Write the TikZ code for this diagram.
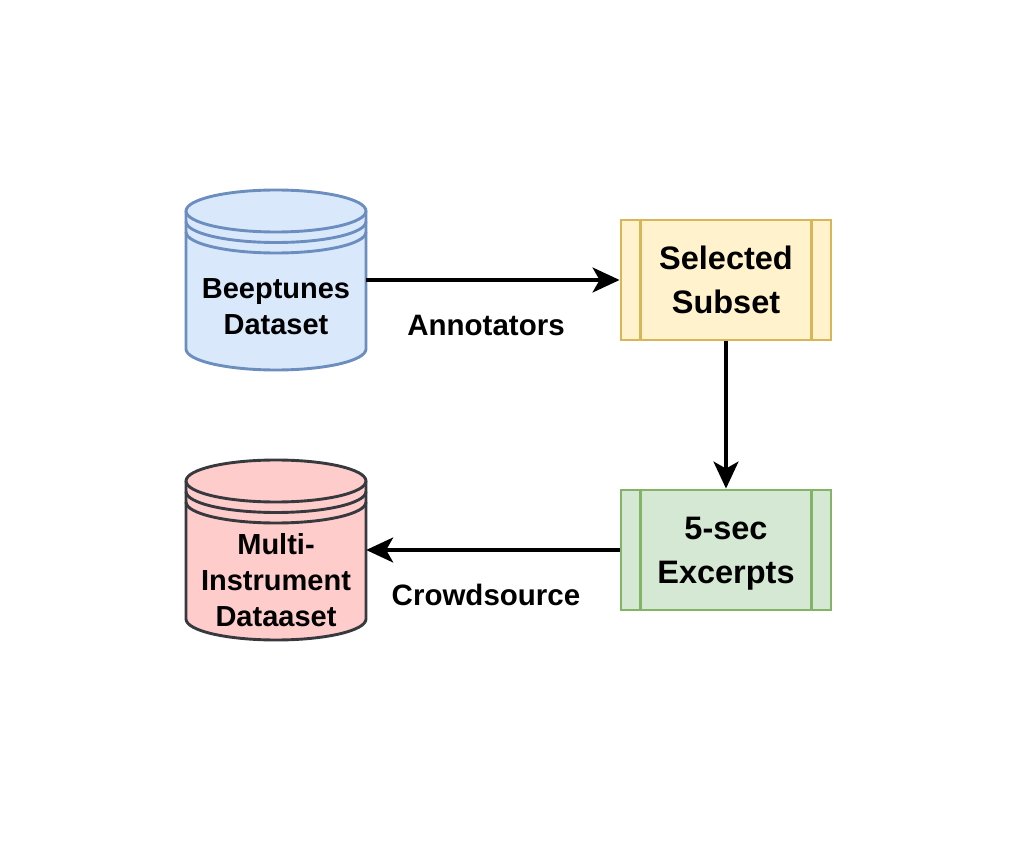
\documentclass[tikz,border=0pt]{standalone}
\usepackage{fontspec}
\setmainfont{Liberation Sans}
\usetikzlibrary{arrows.meta}
\definecolor{blueF}{HTML}{DAE8FC}
\definecolor{blueD}{HTML}{6C8EBF}
\definecolor{yelF}{HTML}{FFF2CC}
\definecolor{yelD}{HTML}{D6B656}
\definecolor{grnF}{HTML}{D5E8D4}
\definecolor{grnD}{HTML}{82B366}
\definecolor{redF}{HTML}{FFCCCC}
\definecolor{redD}{HTML}{36393D}
% datastore cylinder: centre x, centre y, fill, stroke  (180 x 180, dy = 21)
\newcommand{\drawcyl}[4]{%
  \filldraw[fill=#3, draw=#4, shapeline]
    (#1-90,#2-69) arc[start angle=180,end angle=0,x radius=90pt,y radius=21pt]
    -- (#1+90,#2+69) arc[start angle=0,end angle=-180,x radius=90pt,y radius=21pt] -- cycle;
  \draw[draw=#4, shapeline] (#1-90,#2-69) arc[start angle=180,end angle=360,x radius=90pt,y radius=21pt];
  \draw[draw=#4, shapeline] (#1-90,#2-58.5) arc[start angle=180,end angle=360,x radius=90pt,y radius=21pt];
  \draw[draw=#4, shapeline] (#1-90,#2-48) arc[start angle=180,end angle=360,x radius=90pt,y radius=21pt];
}
\begin{document}
\begin{tikzpicture}[x=1pt,y=-1pt,
  shapeline/.style={line width=2.9pt},
  procbox/.style={draw, shapeline, minimum width=210pt, minimum height=120pt, inner sep=0pt},
  holder/.style={minimum width=180pt, minimum height=180pt, inner sep=0pt},
  cyltext/.style={font=\bfseries\fontsize{29}{36}\selectfont, align=center, inner sep=0pt},
  boxtext/.style={font=\bfseries\fontsize{32.5}{43.5}\selectfont, align=center, inner sep=0pt},
  edgetext/.style={font=\bfseries\fontsize{29.5}{35}\selectfont, anchor=base, inner sep=0pt},
  conn/.style={line width=3.3pt, -{Stealth[length=27pt,width=25pt,inset=7pt]}},
]
\useasboundingbox (0,0) rectangle (1021,842);

% Beeptunes dataset
\node[holder] (bt) at (276,280) {};
\drawcyl{276}{280}{blueF}{blueD}
\node[cyltext] (btt) at (276,307) {Beeptunes\\Dataset};

% Multi-instrument dataset
\node[holder] (mi) at (276,550) {};
\drawcyl{276}{550}{redF}{redD}
\node[cyltext] (mit) at (276,579.8) {Multi-\\Instrument\\Dataaset};

% Selected subset
\node[procbox, fill=yelF, draw=yelD] (sel) at (726,280) {};
\draw[shapeline, yelD] ([xshift=21pt]sel.north west) -- ([xshift=21pt]sel.south west);
\draw[shapeline, yelD] ([xshift=-21pt]sel.north east) -- ([xshift=-21pt]sel.south east);
\node[boxtext] (selt) at (726,279.8) {Selected\\Subset};

% 5-sec excerpts
\node[procbox, fill=grnF, draw=grnD] (exc) at (726,550) {};
\draw[shapeline, grnD] ([xshift=21pt]exc.north west) -- ([xshift=21pt]exc.south west);
\draw[shapeline, grnD] ([xshift=-21pt]exc.north east) -- ([xshift=-21pt]exc.south east);
\node[boxtext] (exct) at (726,553.8) {5-sec\\Excerpts};

% connectors
\draw[conn] (bt.east) -- (sel.west);
\draw[conn] (sel.south) -- (exc.north);
\draw[conn] (exc.west) -- (mi.east);

% edge labels
\node[edgetext] (lab1) at (486,336) {Annotators};
\node[edgetext] (lab2) at (486,605) {Crowdsource};
\end{tikzpicture}
\end{document}
